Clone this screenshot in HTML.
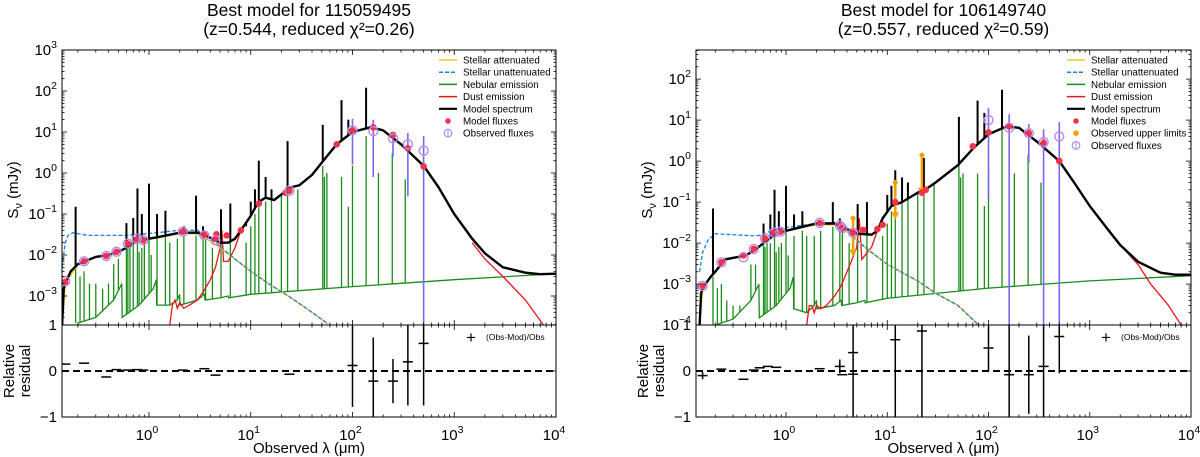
<!DOCTYPE html>
<html><head><meta charset="utf-8"><style>
html,body{margin:0;padding:0;background:#fff;}
svg{display:block;font-family:"Liberation Sans","DejaVu Sans",sans-serif;}
</style></head><body>
<svg id="chart" width="1200" height="457" viewBox="0 0 1200 457" xmlns="http://www.w3.org/2000/svg">
<rect width="1200" height="457" fill="#fff"/>
</svg>
<script>
// ---------- LEFT PANEL DATA ----------
const L_title = ["Best model for 115059495", "(z=0.544, reduced \u03c7\u00b2=0.26)"];
const L_modelX = [0.14,0.145,0.15,0.17,0.2,0.3,0.4,0.5,0.6,0.7,0.9,1.2,2,3,3.6,4.3,5,6,7,8,10,11,12,14,17,20,25,30,40,50,70,100,150,200,300,500,700,1000,1500,2000,3000,5000,7000,10000];
const L_modelY = [0.0002,0.0015,0.002,0.004,0.006,0.009,0.01,0.012,0.015,0.02,0.024,0.027,0.035,0.035,0.03,0.024,0.02,0.02,0.025,0.04,0.09,0.14,0.2,0.25,0.22,0.3,0.45,0.5,0.9,1.8,5,10,13,11,5,1.5,0.45,0.1,0.025,0.011,0.005,0.0037,0.0034,0.0035];
const L_starUX = [0.14,0.15,0.16,0.18,0.25,0.4,0.6,0.8,1.2,2,3,4,5,7,10,15,25,40,57];
const L_starUY = [0.005,0.02,0.03,0.035,0.03,0.03,0.03,0.032,0.035,0.04,0.04,0.025,0.016,0.008,0.004,0.002,0.0009,0.0004,0.00021];
const L_starAX = [0.14,0.15,0.2,0.3,0.5,0.7,1,2,3,4,5,7,10,15,25,40,57];
const L_starAY = [0.0002,0.002,0.006,0.009,0.012,0.019,0.025,0.033,0.033,0.022,0.015,0.008,0.004,0.002,0.0009,0.0004,0.00021];
const L_nebX = [0.2,0.3,0.45,0.54,0.545,0.8,1.1,1.18,1.19,1.6,1.9,2.0,2.02,3,3.5,3.55,5,6,6.05,10,100,1000,10000];
const L_nebY = [0.00022,0.0003,0.0008,0.002,0.0003,0.0006,0.0015,0.0025,0.0006,0.0006,0.0008,0.0011,0.0006,0.0008,0.0011,0.0008,0.0009,0.001,0.0009,0.0011,0.0017,0.0025,0.0035];
const L_dustX = [1.6,1.7,1.8,1.9,2.0,2.2,2.5,3,3.5,4,4.5,5,5.2,5.4,6,7,8,9,1500,2000,3000,5000,7500];
const L_dustY = [0.0002,0.0006,0.0008,0.0005,0.0007,0.0005,0.0006,0.0008,0.0014,0.0025,0.005,0.015,0.04,0.007,0.007,0.015,0.04,0.06,0.02,0.008,0.003,0.0008,0.0002];
const L_lineX = [0.19,0.21,0.23,0.26,0.3,0.35,0.4,0.45,0.5,0.6,0.62,0.65,0.7,0.77,0.8,0.85,0.9,1.0,1.05,1.2,1.45,1.6,1.9,2.2,2.9,3.4,3.6,4.2,5.1,6.3,9,10,11,12,14,16,20,23,29,51,53,56,78,91,100,136,180,246,330];
const L_lineG = [0.012,0.003,0.004,0.002,0.002,0.0015,0.002,0.006,0.008,0.04,0.015,0.02,0.02,0.03,0.012,0.015,0.02,0.03,0.01,0.025,0.03,0.02,0.025,0.03,0.03,0.03,0.025,0.015,0.04,0.04,0.02,0.05,0.1,0.15,0.2,0.25,0.3,0.35,0.4,1.5,0.8,1.0,0.8,0.15,1.5,8,1.0,3,0.7];
const L_lineB = [0.15,0,0,0,0,0,0,0,0,0.06,0,0,0.08,0.42,0,0.1,0,0.55,0,0.1,0.12,0,0,0.05,0.28,0.05,0,0,0.13,0.18,0.05,0.2,0.4,2,0.8,0.4,0,6,0.5,15,0,0,60,20,0,120,0,10,0];
const L_obsX = [0.15,0.23,0.38,0.48,0.62,0.76,0.88,2.15,3.5,4.5,24,100,160,250,350,500];
const L_obsY = [0.0023,0.007,0.0095,0.012,0.019,0.025,0.023,0.037,0.03,0.023,0.37,11,10.5,7,5,3.5];
const L_obsLo = [0,0,0,0,0,0,0,0,0,0,0,1.6,0.8,2.5,0.27,0.0001];
const L_obsHi = [0,0,0,0,0,0,0,0,0,0,0,21,20,9,9.5,8];
const L_modX = [0.15,0.23,0.38,0.48,0.62,0.76,0.88,2.15,3.5,4.5,4.6,5.8,8,12,22,24,70,100,160,250,350,500];
const L_modY = [0.0022,0.007,0.0095,0.012,0.019,0.024,0.023,0.037,0.031,0.025,0.032,0.03,0.04,0.18,0.33,0.37,5,11,13,8.5,4,1.45];
const L_resX = [0.15,0.23,0.38,0.48,0.62,0.76,0.88,2.15,3.5,4.5,24,100,160,250,350,500];
const L_resY = [0.15,0.17,-0.13,0.03,0.02,0.03,0.02,0.02,0.05,-0.09,-0.07,0.12,-0.22,-0.22,0.2,0.6];
const L_resErr = [0,0,0,0,0,0,0,0,0,0,0,0.9,0.95,0.48,0.95,1.35];
const L_legend = ["Stellar attenuated","Stellar unattenuated","Nebular emission","Dust emission","Model spectrum","Model fluxes","Observed fluxes"];

// ---------- RIGHT PANEL DATA ----------
const R_title = ["Best model for 106149740", "(z=0.557, reduced \u03c7\u00b2=0.59)"];
const R_modelX = [0.14,0.145,0.15,0.18,0.2,0.25,0.4,0.5,0.6,0.8,1,2,3,4,5,7,8,9,11,14,20,25,30,50,70,100,150,200,300,500,700,1000,1500,2000,3000,5000,7000,10000];
const R_modelY = [0.0001,0.0006,0.0008,0.0015,0.002,0.004,0.005,0.007,0.01,0.017,0.02,0.03,0.03,0.022,0.017,0.016,0.02,0.04,0.08,0.1,0.17,0.22,0.3,0.8,2,4.5,7,6.5,3,1,0.3,0.08,0.022,0.009,0.0035,0.0019,0.0017,0.0017];
const R_starUX = [0.14,0.15,0.17,0.2,0.3,0.5,0.6,0.7,1,2,3,4,6,10,20,30,50,80];
const R_starUY = [0.002,0.006,0.012,0.017,0.016,0.015,0.016,0.02,0.024,0.03,0.032,0.02,0.008,0.003,0.0012,0.0006,0.0003,0.0001];
const R_starAX = [0.14,0.15,0.2,0.25,0.4,0.5,0.6,0.8,1,2,3,4,6,10,20,30,50,80];
const R_starAY = [0.0001,0.0008,0.002,0.004,0.005,0.007,0.01,0.017,0.02,0.028,0.028,0.019,0.008,0.003,0.0012,0.0006,0.0003,0.0001];
const R_nebX = [0.2,0.3,0.45,0.54,0.545,0.8,1.1,1.18,1.19,1.6,1.9,2.0,2.02,3,3.5,3.55,5,6,6.05,10,100,1000,10000];
const R_nebY = [0.0001,0.00014,0.0004,0.001,0.00015,0.0003,0.0008,0.0015,0.00025,0.0002,0.0003,0.0004,0.00025,0.0003,0.0004,0.0003,0.00035,0.0004,0.00035,0.00045,0.0008,0.0012,0.0016];
const R_dustX = [1.6,1.7,1.8,1.9,2.0,2.2,2.5,3,3.5,4,4.5,5,5.3,5.6,7,8,9,2000,3000,4000,6000,8000];
const R_dustY = [0.0001,0.0003,0.0003,0.0002,0.0003,0.00025,0.0003,0.0005,0.0009,0.002,0.004,0.008,0.04,0.004,0.008,0.02,0.035,0.009,0.003,0.001,0.0003,0.0001];
const R_lineX = [0.19,0.21,0.23,0.26,0.3,0.35,0.4,0.45,0.5,0.6,0.62,0.65,0.7,0.77,0.8,0.85,0.9,1.0,1.05,1.2,1.45,1.6,1.9,2.2,2.9,3.4,3.6,4.2,5.1,6.3,9,10,11,12,14,16,20,23,29,51,53,56,78,91,100,136,180,246,330];
const R_lineG = [0.0015,0.0008,0.001,0.0004,0.0003,0.0003,0.0003,0.003,0.003,0.02,0.008,0.01,0.01,0.015,0.006,0.008,0.01,0.02,0.005,0.015,0.02,0.015,0.015,0.02,0.025,0.025,0.02,0.01,0.03,0.03,0.015,0.03,0.06,0.08,0.1,0.12,0.17,0.22,0.3,0.8,0.4,0.5,0.5,0.08,0.6,7,0.5,1.4,0.3];
const R_lineB = [0.07,0,0,0,0,0,0,0,0,0.03,0,0,0.05,0.2,0,0.06,0,0.25,0,0.05,0.06,0,0,0.03,0.1,0.04,0,0,0.09,0.1,0.04,0.15,0.25,0.6,0.4,0.3,0,1.2,0.3,12,0,0,30,15,0,55,0,5,0];
const R_obsX = [0.15,0.23,0.38,0.48,0.62,0.76,0.88,2.15,3.4,3.6,4.6,100,160,250,350,500];
const R_obsY = [0.0009,0.0034,0.0045,0.0072,0.013,0.018,0.019,0.031,0.027,0.023,0.018,10,6.5,4.8,2.9,4];
const R_obsLo = [0,0,0,0,0,0,0,0,0,0,0,0.13,0.0001,0.9,0.0001,0.0001];
const R_obsHi = [0,0,0,0,0,0,0,0,0,0,0,20,14,8,6,9];
const R_ulX = [4.6,12,22];
const R_ulTop = [0.04,0.3,1.4];
const R_ulBot = [0.005,0.04,0.16];
const R_modX = [0.15,0.23,0.38,0.48,0.62,0.76,0.88,2.15,3.4,3.6,4.6,5.8,8,9,12,22,24,70,100,160,250,350,500];
const R_modY = [0.0009,0.0034,0.005,0.0072,0.013,0.018,0.019,0.031,0.027,0.023,0.018,0.021,0.022,0.028,0.1,0.17,0.2,2.3,5,7,4.8,2.8,1.0];
const R_resX = [0.15,0.23,0.38,0.48,0.55,0.66,0.8,2.15,3.4,3.6,4.6,4.6,12,22,100,160,250,350,500];
const R_resY = [-0.1,0.04,-0.18,0.02,0.07,0.1,0.08,0.05,0.1,-0.08,0.4,-0.07,0.68,0.87,0.5,-0.08,-0.08,0.1,0.75];
const R_resErr = [0.08,0,0,0,0,0,0,0,0.15,0,1.5,0,2,2,0.5,1.5,0.85,1.5,0.8];
const R_legend = ["Stellar attenuated","Stellar unattenuated","Nebular emission","Dust emission","Model spectrum","Model fluxes","Observed upper limits","Observed fluxes"];

// ---------- DRAWING ----------
const NS = "http://www.w3.org/2000/svg";
const svg = document.getElementById("chart");
function mk(tag, attrs, parent, txt) {
  const e = document.createElementNS(NS, tag);
  for (const k in attrs) e.setAttribute(k, attrs[k]);
  if (txt !== undefined) e.textContent = txt;
  (parent || svg).appendChild(e);
  return e;
}
const lg = Math.log10;
function interp(x, X, Y) {
  const lx = lg(x);
  if (x <= X[0]) return Y[0];
  for (let i = 1; i < X.length; i++) {
    if (x <= X[i]) {
      const t = (lx - lg(X[i-1])) / (lg(X[i]) - lg(X[i-1]));
      return Math.pow(10, lg(Y[i-1]) + t * (lg(Y[i]) - lg(Y[i-1])));
    }
  }
  return Y[Y.length-1];
}

function panel(P) {
  const g = mk("g", {});
  
  
  const dec = (P.x1 - P.x0) / (4 - P.lmin);
  const xs = v => P.x0 + (lg(v) - P.lmin) * dec;
  const ys = v => P.yTopPx + (P.yTopLog - lg(v)) * 41;
  const yr = v => 371 - v * 46;
  const clipId = "clip" + P.id;
  const cp = mk("clipPath", {id: clipId}, g);
  mk("rect", {x: P.x0, y: 50, width: P.x1 - P.x0, height: 275}, cp);
  const cpr = mk("clipPath", {id: clipId + "r"}, g);
  mk("rect", {x: P.x0, y: 325, width: P.x1 - P.x0, height: 92}, cpr);

  const t1 = mk("text", {x: (P.x0 + P.x1) / 2, y: 16, "font-size": 17.5, "text-anchor": "middle"}, g, P.title[0]);
  
  
  const t2 = mk("text", {x: (P.x0 + P.x1) / 2, y: 35, "font-size": 17.5, "text-anchor": "middle"}, g, P.title[1]);
  
  

  const main = mk("g", {"clip-path": "url(#" + clipId + ")"}, g);
  
  
  const pathOf = (X, Y) => X.map((x, i) => (i ? "L" : "M") + xs(x).toFixed(1) + "," + ys(Y[i]).toFixed(1)).join("");

  const neb = mk("g", {}, main);
  
  
  P.lineX.forEach((x, i) => {
    const base = interp(x, P.nebX, P.nebY);
    const l = mk("line", {x1: xs(x), x2: xs(x), y1: ys(base), y2: ys(P.lineG[i]), stroke: "#1a8c1a", "stroke-width": 1.3}, neb);
    
    
  });
  const nebC = mk("path", {d: pathOf(P.nebX, P.nebY), fill: "none", stroke: "#1a8c1a", "stroke-width": 1.3}, neb);
  
  

  const split = P.dustX.findIndex((x, i) => i > 0 && x / P.dustX[i-1] > 10);
  const d1 = mk("path", {d: pathOf(P.dustX.slice(0, split), P.dustY.slice(0, split)) + pathOf(P.dustX.slice(split), P.dustY.slice(split)), fill: "none", stroke: "#e8141a", "stroke-width": 1.3}, main);
  
  

  const sa = mk("path", {d: pathOf(P.starAX, P.starAY), fill: "none", stroke: "#f2c81a", "stroke-width": 1.5}, main);
  
  
  const su = mk("path", {d: pathOf(P.starUX, P.starUY), fill: "none", stroke: "#1f7fe0", "stroke-width": 1.3, "stroke-dasharray": "4,2"}, main);
  
  

  const mg = mk("g", {}, main);
  
  
  mk("path", {d: pathOf(P.modelX, P.modelY), fill: "none", stroke: "#000", "stroke-width": 2.4}, mg);
  P.lineX.forEach((x, i) => {
    if (!P.lineB[i]) return;
    const base = interp(x, P.modelX, P.modelY);
    const l = mk("line", {x1: xs(x), x2: xs(x), y1: ys(base), y2: ys(P.lineB[i]), stroke: "#000", "stroke-width": 2}, mg);
    
    
  });

  P.obsX.forEach((x, i) => {
    if (!P.obsHi[i]) return;
    const e = mk("line", {x1: xs(x), x2: xs(x), y1: ys(P.obsLo[i]), y2: ys(P.obsHi[i]), stroke: "#7b68ee", "stroke-width": 1.6}, main);
    
    
  });
  if (P.ulX) P.ulX.forEach((x, i) => {
    const ug = mk("g", {}, main);
    
    
    const X = xs(x), yt = ys(P.ulTop[i]), yb = ys(P.ulBot[i]);
    mk("line", {x1: X, x2: X, y1: yt, y2: yb - 5, stroke: "#f5a000", "stroke-width": 2.5}, ug);
    mk("path", {d: `M${X-4},${yb-6}L${X+4},${yb-6}L${X},${yb+1}Z`, fill: "#f5a000"}, ug);
    mk("circle", {cx: X, cy: yt, r: 2.5, fill: "#f5a000"}, ug);
  });
  P.modX.forEach((x, i) => {
    const c = mk("circle", {cx: xs(x), cy: ys(P.modY[i]), r: 3.3, fill: "#f0324a"}, main);
    
    
  });
  P.obsX.forEach((x, i) => {
    const c = mk("circle", {cx: xs(x), cy: ys(P.obsY[i]), r: 4.5, fill: "none", stroke: "#b38bf0", "stroke-width": 1.4}, main);
    
    
  });

  const rg = mk("g", {"clip-path": "url(#" + clipId + "r)"}, g);
  
  
  const zl = mk("line", {x1: P.x0, x2: P.x1, y1: yr(0), y2: yr(0), stroke: "#000", "stroke-width": 2, "stroke-dasharray": "7,4"}, rg);
  
  
  P.resX.forEach((x, i) => {
    const pg = mk("g", {}, rg);
    
    
    const X = xs(x), Y = yr(P.resY[i]);
    mk("line", {x1: X - 5, x2: X + 5, y1: Y, y2: Y, stroke: "#000", "stroke-width": 1.5}, pg);
    if (P.resErr[i]) mk("line", {x1: X, x2: X, y1: yr(P.resY[i] - P.resErr[i]), y2: yr(P.resY[i] + P.resErr[i]), stroke: "#000", "stroke-width": 1.5}, pg);
  });

  const fr = mk("rect", {x: P.x0, y: 50, width: P.x1 - P.x0, height: 367, fill: "none", stroke: "#000", "stroke-width": 1}, g);
  
  
  mk("line", {x1: P.x0, x2: P.x1, y1: 325, y2: 325, stroke: "#000", "stroke-width": 1}, g);

  const tk = mk("g", {stroke: "#000", "stroke-width": 0.8}, g);
  
  
  for (let e = -1; e <= 4; e++) for (let m = 1; m <= 9; m++) {
    const v = m * Math.pow(10, e); const X = xs(v);
    if (X < P.x0 - 0.5 || X > P.x1 + 0.5) continue;
    const L = m === 1 ? 5 : 2.5;
    [[50, 1], [325, -1], [325, 1], [417, -1]].forEach(([yy, s]) => mk("line", {x1: X, x2: X, y1: yy, y2: yy + s * L}, tk));
  }
  for (let e = 0; e <= 4; e++) {
    const X = xs(Math.pow(10, e));
    const t = mk("text", {x: X - 2, y: 440, "font-size": 15, "text-anchor": "middle"}, g);
    
    
    mk("tspan", {}, t, "10");
    mk("tspan", {dy: -7, "font-size": 10.5}, t, String(e));
  }
  for (let e = -4; e <= 3; e++) for (let m = 1; m <= 9; m++) {
    const Y = ys(m * Math.pow(10, e));
    if (Y < 49.5 || Y > 325.5) continue;
    const L = m === 1 ? 5 : 2.5;
    mk("line", {x1: P.x0, x2: P.x0 + L, y1: Y, y2: Y}, tk);
    mk("line", {x1: P.x1, x2: P.x1 - L, y1: Y, y2: Y}, tk);
    if (m === 1) {
      const t = mk("text", {x: P.x0 - 5, y: Y + 5, "font-size": 15, "text-anchor": "end"}, g);
      
      
      mk("tspan", {}, t, "10");
      mk("tspan", {dy: -7, "font-size": 10.5}, t, e < 0 ? "\u2212" + (-e) : String(e));
    }
  }
  [[1, "1"], [0, "0"], [-1, "\u22121"]].forEach(([v, s]) => {
    const Y = yr(v);
    mk("line", {x1: P.x0, x2: P.x0 + 5, y1: Y, y2: Y}, tk);
    mk("line", {x1: P.x1, x2: P.x1 - 5, y1: Y, y2: Y}, tk);
    const t = mk("text", {x: P.x0 - 5, y: Y + 5, "font-size": 15, "text-anchor": "end"}, g, s);
    
    
  });
  const xl = mk("text", {x: (P.x0 + P.x1) / 2, y: 453, "font-size": 15, "text-anchor": "middle"}, g, "Observed \u03bb (\u03bcm)");
  
  
  const yl = mk("text", {x: 0, y: 0, "font-size": 15, "text-anchor": "middle", transform: `translate(${P.x0 - 44},190) rotate(-90)`}, g);
  
  
  mk("tspan", {}, yl, "S");
  mk("tspan", {dy: 4, "font-size": 11}, yl, "\u03bd");
  mk("tspan", {dy: -4}, yl, " (mJy)");
  const rl = mk("text", {x: 0, y: 0, "font-size": 15, "text-anchor": "middle", transform: `translate(${P.x0 - 48},371) rotate(-90)`}, g);
  
  
  mk("tspan", {x: 0, dy: 0}, rl, "Relative");
  mk("tspan", {x: 0, dy: 16}, rl, "residual");

  const leg = mk("g", {"font-size": 9.8}, g);
  
  
  const lx = P.legX;
  P.legend.forEach((lab, i) => {
    const y = 60 + i * 12.2;
    const e = mk("g", {}, leg);
    
    
    if (lab === "Stellar attenuated") mk("line", {x1: lx, x2: lx + 18, y1: y, y2: y, stroke: "#f2c81a", "stroke-width": 1.5}, e);
    else if (lab === "Stellar unattenuated") mk("line", {x1: lx, x2: lx + 18, y1: y, y2: y, stroke: "#1f7fe0", "stroke-width": 1.5, "stroke-dasharray": "4,2"}, e);
    else if (lab === "Nebular emission") mk("line", {x1: lx, x2: lx + 18, y1: y, y2: y, stroke: "#1a8c1a", "stroke-width": 1.5}, e);
    else if (lab === "Dust emission") mk("line", {x1: lx, x2: lx + 18, y1: y, y2: y, stroke: "#e8141a", "stroke-width": 1.5}, e);
    else if (lab === "Model spectrum") mk("line", {x1: lx, x2: lx + 18, y1: y, y2: y, stroke: "#000", "stroke-width": 2.2}, e);
    else if (lab === "Model fluxes") mk("circle", {cx: lx + 9, cy: y, r: 2.8, fill: "#f0324a"}, e);
    else if (lab === "Observed upper limits") mk("circle", {cx: lx + 9, cy: y, r: 2.8, fill: "#f5a000"}, e);
    else { mk("circle", {cx: lx + 9, cy: y, r: 3.8, fill: "none", stroke: "#b38bf0", "stroke-width": 1.2}, e); mk("line", {x1: lx + 9, x2: lx + 9, y1: y - 3, y2: y + 3, stroke: "#b38bf0"}, e); }
    mk("text", {x: lx + 24, y: y + 3.5}, e, lab);
  });
  const rle = mk("g", {}, g);
  
  
  mk("text", {x: P.x1 - 85, y: 343, "font-size": 17, "text-anchor": "middle"}, rle, "+");
  mk("text", {x: P.x1 - 70, y: 340, "font-size": 8.5}, rle, "(Obs-Mod)/Obs");
}

panel({id: "L", name: "left-panel", title: L_title, x0: 62, x1: 556, lmin: -0.855, yTopPx: 50, yTopLog: 3,
  modelX: L_modelX, modelY: L_modelY, starUX: L_starUX, starUY: L_starUY, starAX: L_starAX, starAY: L_starAY,
  nebX: L_nebX, nebY: L_nebY, dustX: L_dustX, dustY: L_dustY, lineX: L_lineX, lineG: L_lineG, lineB: L_lineB,
  obsX: L_obsX, obsY: L_obsY, obsLo: L_obsLo, obsHi: L_obsHi, modX: L_modX, modY: L_modY,
  resX: L_resX, resY: L_resY, resErr: L_resErr, legend: L_legend, legX: 439});
panel({id: "R", name: "right-panel", title: R_title, x0: 696, x1: 1191, lmin: -0.889, yTopPx: 50, yTopLog: 2.71,
  modelX: R_modelX, modelY: R_modelY, starUX: R_starUX, starUY: R_starUY, starAX: R_starAX, starAY: R_starAY,
  nebX: R_nebX, nebY: R_nebY, dustX: R_dustX, dustY: R_dustY, lineX: R_lineX, lineG: R_lineG, lineB: R_lineB,
  obsX: R_obsX, obsY: R_obsY, obsLo: R_obsLo, obsHi: R_obsHi, modX: R_modX, modY: R_modY,
  ulX: R_ulX, ulTop: R_ulTop, ulBot: R_ulBot,
  resX: R_resX, resY: R_resY, resErr: R_resErr, legend: R_legend, legX: 1067});
</script>
</body></html>
